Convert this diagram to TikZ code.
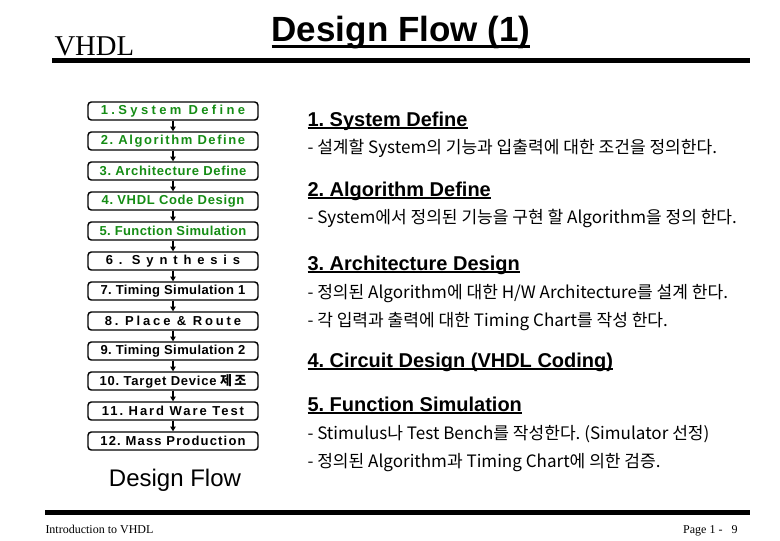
\documentclass[tikz,border=0pt]{standalone}
\usepackage{fontspec}
\setmainfont{Liberation Sans}
\newfontfamily\timesf{Liberation Serif}
\newfontfamily\cjk{Noto Sans CJK KR}
\usetikzlibrary{arrows.meta}

\definecolor{flowgreen}{RGB}{20,140,20}
\newcommand{\ls}[2]{{\addfontfeature{LetterSpace=#1}#2}}
\newcommand{\thickul}[3]{\setbox0\hbox{#3}\leavevmode\rlap{\rule[-#1]{\wd0}{#2}}\box0}

\tikzset{every picture/.style={line width=0.75pt}}
\tikzset{
  flowbox/.style={draw, rounded corners=2.5pt, line width=1.1pt, minimum width=127.5pt, minimum height=13.5pt, inner sep=0pt, font=\bfseries\fontsize{9.75}{11}\selectfont},
  flowarrow/.style={line width=1.1pt, -{Triangle[length=3.5pt,width=4pt]}},
  headtxt/.style={anchor=base west, inner sep=0pt, font=\bfseries\fontsize{15}{18}\selectfont},
  bodytxt/.style={anchor=base west, inner sep=0pt, font=\cjk\fontsize{12.8}{15}\selectfont}
}

\begin{document}
\frenchspacing
\begin{tikzpicture}[x=0.75pt,y=0.75pt,yscale=-1,xscale=1]
\useasboundingbox (0,0) rectangle (780,540);

% Header
\node (vhdl) [anchor=base west, inner sep=0pt, font=\timesf\fontsize{21.5}{24}\selectfont] at (54,55) {VHDL};
\node (title) [anchor=base, inner sep=0pt, font=\bfseries\fontsize{26.25}{30}\selectfont] at (401,41) {\thickul{5.25pt}{2.25pt}{Design Flow (1)}};
\fill (52,58) rectangle (750,63);

% Flow boxes
\node (b1) [flowbox, text=flowgreen] at (173,111) {\ls{26}{1.System Define}};
\node (b2) [flowbox, text=flowgreen] at (173,141) {\ls{12}{2. Algorithm Define}};
\node (b3) [flowbox, text=flowgreen] at (173,171) {\ls{5}{3. Architecture Define}};
\node (b4) [flowbox, text=flowgreen] at (173,201) {\ls{5}{4. VHDL Code Design}};
\node (b5) [flowbox, text=flowgreen] at (173,231) {\ls{3}{5. Function Simulation}};
\node (b6) [flowbox] at (173,261) {\ls{45}{6. Synthesis}};
\node (b7) [flowbox] at (173,291) {\ls{3}{7. Timing Simulation 1}};
\node (b8) [flowbox] at (173,321) {\ls{22}{8. Place \& Route}};
\node (b9) [flowbox] at (173,351) {\ls{3}{9. Timing Simulation 2}};
\node (b10) [flowbox] at (173,381) {\ls{6}{10. Target Device} {\cjk\bfseries 제\,조}};
\node (b11) [flowbox] at (173,411) {\ls{15}{11. Hard Ware Test}};
\node (b12) [flowbox] at (173,441) {\ls{9}{12. Mass Production}};

\foreach \i [evaluate=\i as \j using int(\i+1)] in {1,...,11}
  \draw [flowarrow] (b\i.south) -- (b\j.north);

\node (flowlbl) [anchor=base, inner sep=0pt, font=\fontsize{18}{21}\selectfont] at (175,486) {Design Flow};

% Right column
\node (h1) [headtxt] at (307,126) {\thickul{2.6pt}{1.5pt}{1. System Define}};
\node (t1) [bodytxt] at (307,153) {- 설계할 System의 기능과 입출력에 대한 조건을 정의한다.};
\node (h2) [headtxt] at (307,196) {\thickul{2.6pt}{1.5pt}{2. Algorithm Define}};
\node (t2) [bodytxt] at (307,223) {- System에서 정의된 기능을 구현 할 Algorithm을 정의 한다.};
\node (h3) [headtxt] at (307,270) {\thickul{2.6pt}{1.5pt}{3. Architecture Design}};
\node (t3a) [bodytxt] at (307,298) {- 정의된 Algorithm에 대한 H/W Architecture를 설계 한다.};
\node (t3b) [bodytxt] at (307,326) {- 각 입력과 출력에 대한 Timing Chart를 작성 한다.};
\node (h4) [headtxt] at (307,367) {\thickul{2.6pt}{1.5pt}{4. Circuit Design (VHDL Coding)}};
\node (h5) [headtxt] at (307,411) {\thickul{2.6pt}{1.5pt}{5. Function Simulation}};
\node (t5a) [bodytxt] at (307,439) {- Stimulus나 Test Bench를 작성한다. (Simulator 선정)};
\node (t5b) [bodytxt] at (307,467) {- 정의된 Algorithm과 Timing Chart에 의한 검증.};

% Footer
\fill (45,510) rectangle (750,515);
\node (foot) [anchor=base west, inner sep=0pt, font=\timesf\fontsize{9}{11}\selectfont] at (45,533) {Introduction to VHDL};
\node (page) [anchor=base east, inner sep=0pt, font=\timesf\fontsize{9}{11}\selectfont] at (738,533) {Page 1 -\ \ \ 9};
\end{tikzpicture}
\end{document}
